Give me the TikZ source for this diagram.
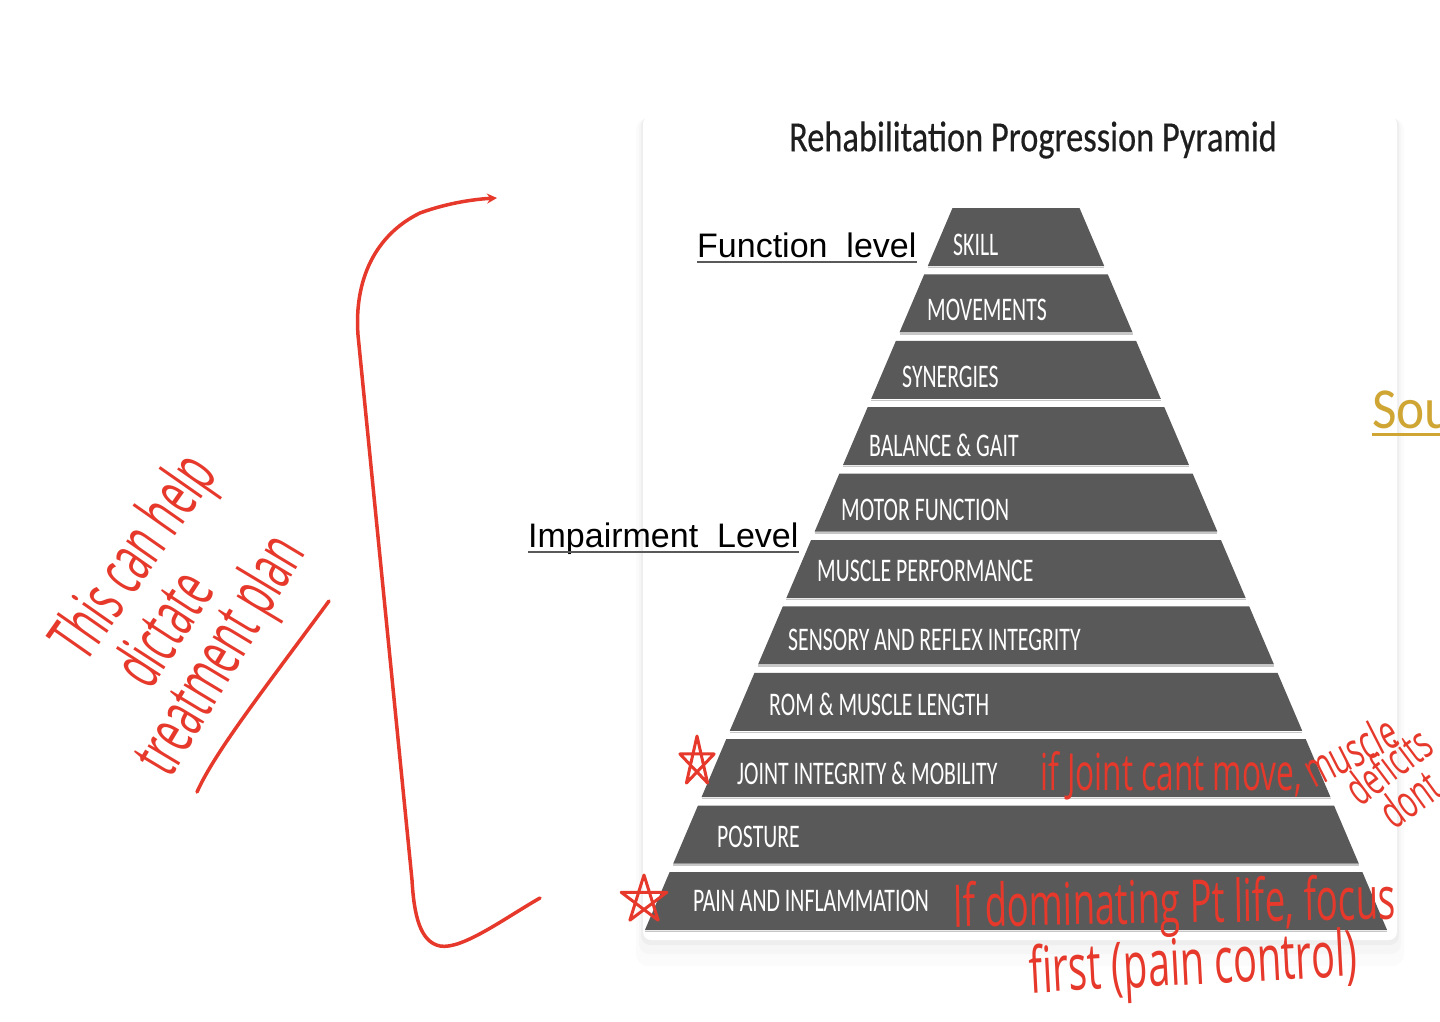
\documentclass[tikz,border=0pt]{standalone}
\usepackage{fontspec}
\setmainfont{Liberation Sans}
\newfontfamily\bandfont[FakeStretch=0.66]{Carlito}
\newfontfamily\titlefont[FakeStretch=0.80,FakeBold=0.4]{Carlito}
\newfontfamily\goldfont[FakeStretch=0.92]{Carlito}
\newfontfamily\handfont[FakeStretch=0.62]{Open Sans}
\newfontfamily\tallhand[FakeStretch=0.56]{Open Sans}
\usetikzlibrary{arrows.meta,calc}
\definecolor{bandgray}{HTML}{595959}
\definecolor{ink}{HTML}{E6392B}
\definecolor{gold}{HTML}{CFA534}
\definecolor{titleink}{HTML}{1E1E1E}
\tikzset{
  bandlabel/.style={anchor=west, inner sep=0pt, text=white, font=\bandfont\fontsize{33}{33}\selectfont},
  levellabel/.style={anchor=base west, inner sep=0pt, text=black, font=\fontsize{34}{34}\selectfont},
  ul/.style={draw=black!65, line width=2.5pt},
  hand/.style={anchor=base west, inner sep=0pt, text=ink},
  lefthand/.style={hand, font=\tallhand\fontsize{68}{68}\selectfont},
  inkline/.style={draw=ink, line width=3.5pt, line cap=round, line join=round},
}
\begin{document}
\begin{tikzpicture}[x=1pt,y=-1pt]
\useasboundingbox (0,0) rectangle (1440,1022);
\clip (0,0) rectangle (1440,1022);
\fill[white] (0,0) rectangle (1440,1022);

% card with soft shadow
\fill[black, opacity=0.015, rounded corners=12] (636,118) rectangle (1404,966);
\fill[black, opacity=0.02, rounded corners=10] (639,118) rectangle (1401,954);
\fill[black, opacity=0.03, rounded corners=9] (641,117) rectangle (1399,945);
\fill[white, rounded corners=8] (643,116) rectangle (1397,940);

% title
\node[inner sep=0pt, text=titleink, font=\titlefont\fontsize{43}{43}\selectfont] (title) at (1033,140) {Rehabilitation Progression Pyramid};

% pyramid bands
\foreach \i/\lab/\lx/\ly in {
  1/SKILL/953/245,
  2/MOVEMENTS/927/310,
  3/SYNERGIES/902/377,
  4/BALANCE \& GAIT/869/445,
  5/MOTOR FUNCTION/841/510,
  6/MUSCLE PERFORMANCE/817/571,
  7/SENSORY AND REFLEX INTEGRITY/788/640,
  8/ROM \& MUSCLE LENGTH/769/704,
  9/JOINT INTEGRITY \& MOBILITY/737/773,
  10/POSTURE/717/837,
  11/PAIN AND INFLAMMATION/693/901}{
  \pgfmathsetmacro\bandtop{208+66.4*(\i-1)}
  \pgfmathsetmacro\bandbot{\bandtop+58}
  \pgfmathsetmacro\hwtop{63.5+0.426*(\bandtop-208)}
  \pgfmathsetmacro\hwbot{63.5+0.426*(\bandbot-208)}
  \pgfmathsetmacro\edgey{\bandbot+1.5}
  \fill[bandgray] (1016-\hwtop,\bandtop) -- (1016+\hwtop,\bandtop) -- (1016+\hwbot,\bandbot) -- (1016-\hwbot,\bandbot) -- cycle;
  \draw[black!22, line width=1.5pt] (1016-\hwbot,\edgey) -- (1016+\hwbot,\edgey);
  \node[bandlabel] (b\i) at (\lx,\ly) {\lab};
}

% level labels
\node[levellabel] (fl) at (697,257) {Function\ \ level};
\draw[ul] ([yshift=-5pt]fl.base west) -- ([yshift=-5pt]fl.base east);
\node[levellabel] (il) at (528,547) {Impairment\ \ Level};
\draw[ul] ([yshift=-5pt]il.base west) -- ([yshift=-5pt]il.base east);

% cut-off source link
\node[anchor=base west, inner sep=0pt, text=gold, font=\goldfont\fontsize{58}{58}\selectfont] (src) at (1372,428) {Sou};
\draw[gold, line width=3pt] (1372,434) -- (1440,434);

% bracket arrow
\coordinate (bkS) at (540,898);
\coordinate (bkE) at (497,198);
\draw[inkline, -{Stealth[length=10pt,width=10pt]}] (bkS) .. controls (505,918) and (462,950) .. (440,946)
  .. controls (420,942) and (414,915) .. (412,880) -- (358,335)
  .. controls (354,280) and (375,235) .. (420,213) .. controls (450,202) and (478,199) .. (bkE);

% left handwriting
\node[lefthand, rotate=55] (h1) at (85,665) {This can help};
\node[lefthand, rotate=57] (h2) at (150,692) {dictate};
\node[lefthand, rotate=59] (h3) at (170,780) {treatment plan};
\coordinate (u1) at (197,792);
\coordinate (u2) at (329,601);
\draw[inkline] (u1) .. controls (215,752) and (262,692) .. (u2);

% stars
\coordinate (s1) at (697,762);
\coordinate (s2) at (644,900);
\foreach \s/\rx/\ry in {s1/18/26, s2/24/25}{
  \draw[inkline, line width=3pt]
    ($(\s)+({\rx*cos(270)},{\ry*sin(270)})$) -- ($(\s)+({\rx*cos(414)},{\ry*sin(414)})$)
    -- ($(\s)+({\rx*cos(558)},{\ry*sin(558)})$) -- ($(\s)+({\rx*cos(702)},{\ry*sin(702)})$)
    -- ($(\s)+({\rx*cos(846)},{\ry*sin(846)})$) -- cycle;
}

% right handwriting
\node[hand, font=\handfont\fontsize{51}{51}\selectfont] (r1) at (1040,790) {if Joint cant move,};
\node[hand, rotate=27, font=\handfont\fontsize{48}{48}\selectfont] (r2) at (1314,789) {muscle};
\node[hand, rotate=37, font=\handfont\fontsize{46}{46}\selectfont] (r3) at (1360,808) {deficits};
\node[hand, rotate=36, font=\handfont\fontsize{46}{46}\selectfont] (r4) at (1394,831) {dont};
\node[hand, rotate=1, font=\handfont\fontsize{59}{59}\selectfont] (p1) at (953,927) {If dominating Pt life, focus};
\node[hand, rotate=3, font=\handfont\fontsize{64}{64}\selectfont] (p2) at (1030,993) {first (pain control)};
\end{tikzpicture}
\end{document}
